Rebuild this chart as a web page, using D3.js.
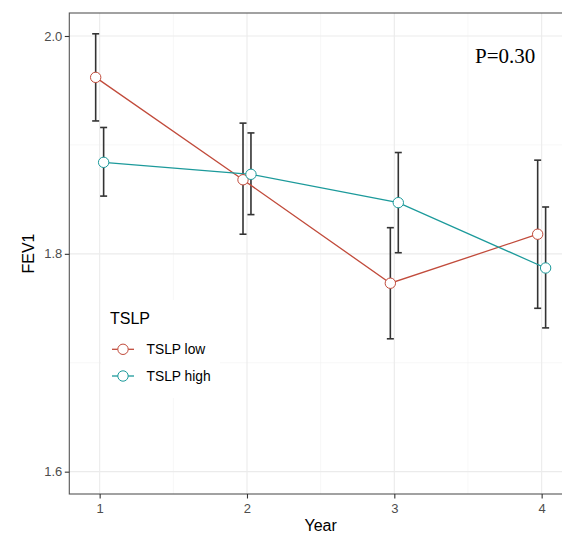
<!DOCTYPE html>
<html>
<head>
<meta charset="utf-8">
<script src="https://d3js.org/d3.v7.min.js"></script>
<style>
body { margin: 0; background: #fff; }
svg { display: block; }
</style>
</head>
<body>
<script>
// data
const years = [1, 2, 3, 4];
const groups = ["TSLP low", "TSLP high"];
const lowMean = [1.962, 1.868, 1.773, 1.818];
const lowLo   = [1.922, 1.818, 1.722, 1.750];
const lowHi   = [2.002, 1.920, 1.824, 1.886];
const highMean = [1.884, 1.873, 1.847, 1.787];
const highLo   = [1.853, 1.836, 1.801, 1.732];
const highHi   = [1.916, 1.911, 1.893, 1.843];
const yTicks = [1.6, 1.8, 2.0];
const yMinor = [1.7, 1.9];
const xMinor = [1.5, 2.5, 3.5];
const pLabel = "P=0.30";

const width = 562, height = 533;
const pLeft = 69.3, pRight = 572, pTop = 13, pBottom = 494;
const colours = ["#C14B3B", "#1C9A9B"];
const dodge = 0.027;

const series = [
  { name: groups[0], mean: lowMean, lo: lowLo, hi: lowHi, off: -dodge, col: colours[0] },
  { name: groups[1], mean: highMean, lo: highLo, hi: highHi, off: dodge, col: colours[1] }
];

const x = d3.scaleLinear().domain([0.794, 4.206]).range([pLeft, pRight]);
const y = d3.scaleLinear().domain([1.5795, 2.0211]).range([pBottom, pTop]);

const svg = d3.select("body").append("svg")
  .attr("width", width)
  .attr("height", height);

// grid
const grid = svg.append("g");
grid.selectAll(".ymin").data(yMinor).enter().append("line")
  .attr("x1", pLeft).attr("x2", pRight)
  .attr("y1", d => y(d)).attr("y2", d => y(d))
  .attr("stroke", "#f2f2f2").attr("stroke-width", 0.6);
grid.selectAll(".xmin").data(xMinor).enter().append("line")
  .attr("y1", pTop).attr("y2", pBottom)
  .attr("x1", d => x(d)).attr("x2", d => x(d))
  .attr("stroke", "#f2f2f2").attr("stroke-width", 0.6);
grid.selectAll(".ymaj").data(yTicks).enter().append("line")
  .attr("x1", pLeft).attr("x2", pRight)
  .attr("y1", d => y(d)).attr("y2", d => y(d))
  .attr("stroke", "#ebebeb").attr("stroke-width", 1.1);
grid.selectAll(".xmaj").data(years).enter().append("line")
  .attr("y1", pTop).attr("y2", pBottom)
  .attr("x1", d => x(d)).attr("x2", d => x(d))
  .attr("stroke", "#ebebeb").attr("stroke-width", 1.1);

// legend background (sits over the grid, inside the panel)
svg.append("rect")
  .attr("x", 101).attr("y", 300).attr("width", 119).attr("height", 98)
  .attr("fill", "#fff");

// error bars
series.forEach(s => {
  const g = svg.append("g").attr("stroke", "#333").attr("stroke-width", 1.6);
  years.forEach((yr, i) => {
    const cx = x(yr + s.off);
    g.append("line").attr("x1", cx).attr("x2", cx).attr("y1", y(s.lo[i])).attr("y2", y(s.hi[i]));
    g.append("line").attr("x1", cx - 3.5).attr("x2", cx + 3.5).attr("y1", y(s.lo[i])).attr("y2", y(s.lo[i]));
    g.append("line").attr("x1", cx - 3.5).attr("x2", cx + 3.5).attr("y1", y(s.hi[i])).attr("y2", y(s.hi[i]));
  });
});

// lines and points
const line = d3.line().x(d => x(d[0])).y(d => y(d[1]));
series.forEach(s => {
  const pts = years.map((yr, i) => [yr + s.off, s.mean[i]]);
  svg.append("path").datum(pts)
    .attr("d", line)
    .attr("fill", "none")
    .attr("stroke", s.col)
    .attr("stroke-width", 1.3);
});
series.forEach(s => {
  svg.selectAll(null).data(years).enter().append("circle")
    .attr("cx", (d, i) => x(d + s.off))
    .attr("cy", (d, i) => y(s.mean[i]))
    .attr("r", 5.2)
    .attr("fill", "#fff")
    .attr("stroke", s.col)
    .attr("stroke-width", 1);
});

// panel border
svg.append("rect")
  .attr("x", pLeft).attr("y", pTop)
  .attr("width", pRight - pLeft).attr("height", pBottom - pTop)
  .attr("fill", "none").attr("stroke", "#555").attr("stroke-width", 1.1);

// axes
const yAxis = svg.append("g")
  .attr("transform", "translate(" + pLeft + ",0)")
  .call(d3.axisLeft(y).tickValues(yTicks).tickFormat(d3.format(".1f")).tickSize(4.5).tickPadding(2.5));
const xAxis = svg.append("g")
  .attr("transform", "translate(0," + pBottom + ")")
  .call(d3.axisBottom(x).tickValues(years).tickFormat(d3.format("d")).tickSize(4.5).tickPadding(5));
[yAxis, xAxis].forEach(a => {
  a.select(".domain").remove();
  a.selectAll(".tick line").attr("stroke", "#333").attr("stroke-width", 1.1);
  a.selectAll(".tick text")
    .attr("fill", "#4d4d4d")
    .style("font-family", "'Liberation Sans', Arial, sans-serif")
    .style("font-size", "13px");
});

// axis titles
svg.append("text")
  .attr("x", (pLeft + pRight) / 2).attr("y", 531)
  .attr("text-anchor", "middle")
  .style("font-family", "'Liberation Sans', Arial, sans-serif")
  .style("font-size", "16px")
  .text("Year");
svg.append("text")
  .attr("transform", "translate(34," + ((pTop + pBottom) / 2) + ") rotate(-90)")
  .attr("text-anchor", "middle")
  .style("font-family", "'Liberation Sans', Arial, sans-serif")
  .style("font-size", "16px")
  .text("FEV1");

// annotation
svg.append("text")
  .attr("x", 475).attr("y", 63)
  .style("font-family", "'Liberation Serif', 'Times New Roman', serif")
  .style("font-size", "21px")
  .text(pLabel);

// legend
const leg = svg.append("g");
leg.append("text")
  .attr("x", 110).attr("y", 324)
  .style("font-family", "'Liberation Sans', Arial, sans-serif")
  .style("font-size", "16px")
  .text("TSLP");
series.forEach((s, i) => {
  const ky = 349.3 + i * 26.7;
  leg.append("line").attr("x1", 112).attr("x2", 134).attr("y1", ky).attr("y2", ky)
    .attr("stroke", s.col).attr("stroke-width", 1.3);
  leg.append("circle").attr("cx", 123).attr("cy", ky).attr("r", 5.2)
    .attr("fill", "#fff").attr("stroke", s.col).attr("stroke-width", 1);
  leg.append("text").attr("x", 146.5).attr("y", ky + 5)
    .style("font-family", "'Liberation Sans', Arial, sans-serif")
    .style("font-size", "13.8px")
    .text(s.name);
});
</script>
</body>
</html>
